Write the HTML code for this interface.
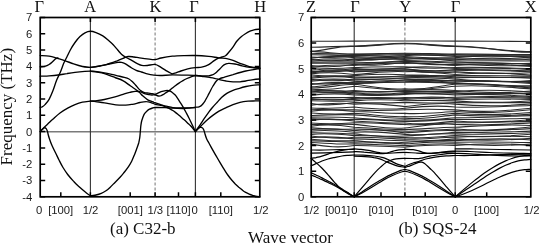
<!DOCTYPE html><html><head><meta charset="utf-8"><style>html,body{margin:0;padding:0;background:#fff;width:539px;height:244px;overflow:hidden}svg{display:block;will-change:transform}</style></head><body>
<svg width="539" height="244" viewBox="0 0 539 244">
<rect width="539" height="244" fill="#fff"/>
<line x1="40.2" y1="131.8" x2="259.8" y2="131.8" stroke="#7a7a7a" stroke-width="1.5"/>
<line x1="90.4" y1="17.5" x2="90.4" y2="196.8" stroke="#333" stroke-width="1.1"/>
<line x1="195.4" y1="17.5" x2="195.4" y2="196.8" stroke="#333" stroke-width="1.1"/>
<line x1="155.1" y1="17.5" x2="155.1" y2="196.8" stroke="#8a8a8a" stroke-width="1.2" stroke-dasharray="3,2"/>
<line x1="354.2" y1="17.5" x2="354.2" y2="196.8" stroke="#333" stroke-width="1.1"/>
<line x1="455.2" y1="17.5" x2="455.2" y2="196.8" stroke="#333" stroke-width="1.1"/>
<line x1="404.9" y1="17.5" x2="404.9" y2="196.8" stroke="#8a8a8a" stroke-width="1.2" stroke-dasharray="3,2"/>
<g fill="none" stroke="#000" stroke-width="1.35" stroke-linejoin="round" stroke-linecap="round">
<path d="M40.2 107.4 C40.5 107.3 41.2 107.5 42.0 107.0 C42.8 106.5 43.8 105.9 45.0 104.6 C46.2 103.3 47.8 101.6 49.1 99.3 C50.4 97.0 51.8 93.6 53.0 90.5 C54.2 87.4 55.3 83.5 56.5 80.5 C57.7 77.5 59.1 75.1 60.3 72.3 C61.5 69.5 62.5 66.2 63.6 63.6 C64.7 61.0 65.9 59.0 67.0 56.7 C68.1 54.4 69.0 52.4 70.3 50.0 C71.6 47.6 73.4 44.7 75.0 42.5 C76.6 40.3 78.3 38.2 80.0 36.6 C81.7 35.0 83.3 33.7 85.0 32.8 C86.7 31.9 88.6 31.3 90.4 31.3 C92.2 31.3 93.9 31.8 96.0 32.6 C98.1 33.4 100.8 34.7 102.8 35.9 C104.8 37.1 106.3 38.5 108.0 40.0 C109.7 41.5 111.6 43.1 113.2 44.8 C114.8 46.5 116.3 48.4 117.7 50.0 C119.1 51.6 120.3 53.2 121.7 54.5 C123.1 55.8 124.5 56.5 126.2 57.5 C127.9 58.5 129.8 59.4 131.7 60.4 C133.5 61.4 135.6 62.8 137.3 63.6 C139.0 64.4 140.1 65.1 141.8 65.4 C143.5 65.7 145.1 65.7 147.3 65.5 C149.5 65.3 152.7 64.1 155.0 64.4 C157.3 64.7 159.0 66.2 161.0 67.3 C163.0 68.4 165.2 70.1 167.0 71.2 C168.8 72.3 171.2 73.4 172.0 73.8"/>
<path d="M172.0 73.8 C172.7 73.6 174.5 73.3 176.0 72.8 C177.5 72.3 178.9 71.7 180.9 71.0 C182.9 70.3 185.4 69.5 187.8 68.9 C190.2 68.4 193.0 68.0 195.3 67.7 C197.6 67.4 199.5 67.7 201.7 67.2 C203.9 66.7 206.6 65.8 208.7 64.7 C210.8 63.6 212.6 61.7 214.2 60.6 C215.8 59.5 217.1 58.7 218.4 58.1 C219.7 57.5 220.8 57.4 222.0 57.0 C223.2 56.6 224.3 56.6 225.5 55.8 C226.7 55.0 227.7 53.5 229.0 52.0 C230.3 50.5 231.8 48.6 233.1 46.8 C234.4 45.0 235.6 42.7 237.0 41.0 C238.4 39.3 240.0 37.8 241.5 36.5 C243.0 35.2 244.4 34.4 245.8 33.5 C247.2 32.6 248.6 31.8 250.0 31.2 C251.4 30.6 252.4 30.1 254.0 29.8 C255.6 29.5 258.8 29.3 259.8 29.2"/>
<path d="M90.4 67.4 C91.2 67.3 92.4 67.3 95.0 66.8 C97.6 66.3 102.4 65.6 106.1 64.6 C109.8 63.6 114.3 61.9 117.3 60.8 C120.3 59.7 122.2 58.7 124.0 58.0 C125.8 57.3 126.7 56.7 128.4 56.5 C130.1 56.3 132.2 56.8 134.0 57.0 C135.8 57.2 137.3 57.5 139.5 57.8 C141.7 58.1 144.4 58.5 147.0 58.8 C149.6 59.1 152.7 59.7 155.0 59.6 C157.3 59.5 158.2 58.6 161.1 58.0 C164.0 57.4 168.5 56.6 172.3 56.2 C176.1 55.8 180.2 55.7 184.0 55.6 C187.8 55.5 191.2 55.4 195.3 55.5 C199.4 55.6 204.8 56.0 208.7 56.4 C212.5 56.8 215.4 57.4 218.4 57.8 C221.4 58.2 224.4 58.2 226.8 58.6 C229.2 59.0 230.8 59.5 233.0 60.3 C235.2 61.1 237.0 62.2 240.0 63.3 C243.0 64.4 247.6 66.2 250.9 67.0 C254.2 67.8 258.3 67.7 259.8 67.8"/>
<path d="M90.4 67.4 C92.0 67.2 96.5 66.6 100.0 66.0 C103.5 65.4 108.7 64.2 111.7 63.6 C114.7 63.0 116.4 62.6 118.0 62.4 C119.6 62.2 120.3 62.2 121.5 62.4 C122.7 62.6 123.3 62.7 125.0 63.6 C126.7 64.5 129.8 66.9 131.7 68.0 C133.6 69.1 134.6 69.6 136.2 70.3 C137.8 71.0 139.8 71.5 141.5 72.0 C143.2 72.5 144.1 73.1 146.2 73.6 C148.3 74.1 151.6 74.8 153.9 75.1 C156.2 75.4 156.9 75.5 160.0 75.5 C163.1 75.5 167.9 75.0 172.5 74.9 C177.1 74.9 184.0 75.1 187.8 75.2 C191.6 75.3 193.0 75.4 195.3 75.5 C197.6 75.6 199.5 75.8 201.7 75.9 C203.9 76.0 206.9 76.1 208.7 75.9 C210.5 75.7 211.3 75.3 212.5 74.8 C213.7 74.3 214.4 74.0 215.6 73.0 C216.8 72.0 218.4 70.2 219.8 68.9 C221.2 67.6 222.6 65.8 224.0 64.9 C225.4 64.0 226.4 63.5 228.2 63.4 C230.0 63.2 232.7 63.6 235.0 64.0 C237.3 64.4 239.5 65.2 242.0 65.8 C244.5 66.4 247.0 67.0 250.0 67.4 C253.0 67.8 258.2 68.2 259.8 68.3"/>
<path d="M40.2 55.6 C41.7 55.7 46.5 55.7 49.1 56.1 C51.7 56.5 53.2 57.0 55.8 57.8 C58.4 58.5 61.7 59.6 64.7 60.6 C67.7 61.6 70.6 62.9 73.6 63.9 C76.6 64.9 79.7 65.9 82.5 66.5 C85.3 67.1 89.1 67.2 90.4 67.4"/>
<path d="M40.2 66.7 C41.0 66.7 43.2 66.8 44.7 66.4 C46.2 66.0 47.8 65.3 49.1 64.5 C50.4 63.7 51.4 62.7 52.5 61.7 C53.6 60.7 54.9 59.2 55.8 58.6 C56.7 58.0 57.6 58.0 58.0 57.9"/>
<path d="M40.2 76.2 C41.7 76.1 46.1 76.0 49.1 75.8 C52.1 75.6 55.0 75.4 58.0 75.0 C61.0 74.6 64.2 74.0 67.0 73.6 C69.8 73.1 72.0 72.7 75.0 72.3 C78.0 71.9 82.2 71.5 84.8 71.3 C87.4 71.1 89.5 71.1 90.4 71.1"/>
<path d="M90.4 71.1 C91.5 71.2 94.7 71.4 97.0 71.7 C99.3 72.0 101.2 72.3 104.4 72.9 C107.6 73.5 112.6 74.7 115.9 75.4 C119.2 76.2 122.1 76.8 124.3 77.4 C126.5 78.0 127.6 78.3 129.0 79.0 C130.4 79.7 131.4 80.8 132.5 81.8 C133.6 82.8 134.5 83.9 135.5 85.0 C136.5 86.1 137.6 87.6 138.5 88.6 C139.4 89.6 140.0 90.2 141.0 90.9 C142.0 91.6 143.2 92.2 144.5 92.6 C145.8 93.0 147.2 93.0 148.5 93.2 C149.8 93.4 150.9 93.5 152.0 93.7 C153.1 93.9 154.5 94.4 155.0 94.6"/>
<path d="M90.4 71.1 C91.5 71.3 94.7 71.7 97.0 72.1 C99.3 72.5 101.4 72.7 104.4 73.6 C107.4 74.5 111.9 76.3 115.0 77.5 C118.1 78.7 120.2 79.2 122.8 80.6 C125.4 82.0 128.0 84.2 130.6 86.0 C133.2 87.8 136.3 89.8 138.4 91.5 C140.5 93.2 141.4 94.7 143.0 96.1 C144.6 97.5 145.9 98.8 147.7 99.8 C149.5 100.8 151.8 101.5 153.9 102.3 C156.0 103.0 158.2 103.6 160.0 104.3 C161.8 105.0 163.5 105.9 165.0 106.6 C166.5 107.3 167.8 107.8 169.1 108.4 C170.4 109.1 171.5 109.7 172.8 110.5 C174.1 111.3 175.4 112.4 176.7 113.4 C178.0 114.4 179.2 115.5 180.5 116.6 C181.8 117.7 183.0 118.8 184.2 119.8 C185.4 120.8 186.5 121.9 187.5 122.9 C188.5 123.9 189.4 124.6 190.3 125.6 C191.2 126.5 192.2 127.6 193.0 128.6 C193.8 129.6 195.0 131.1 195.4 131.6"/>
<path d="M155.0 94.6 C155.6 94.3 157.4 93.4 158.4 92.9 C159.4 92.4 159.9 92.1 161.1 91.7 C162.3 91.3 164.3 90.8 165.7 90.6 C167.1 90.4 168.7 90.6 169.3 90.6"/>
<path d="M155.0 94.6 C155.6 94.8 157.4 95.8 158.4 96.0 C159.4 96.2 160.2 96.0 161.1 95.7 C161.9 95.4 162.7 94.9 163.5 94.4 C164.3 93.9 164.7 93.4 165.7 92.8 C166.7 92.2 168.7 91.0 169.3 90.6"/>
<path d="M169.3 90.6 C169.8 90.2 171.1 89.1 172.0 88.3 C172.9 87.5 173.8 86.9 175.0 86.0 C176.2 85.1 177.7 84.0 179.0 83.1 C180.3 82.2 181.7 81.4 183.0 80.6 C184.3 79.8 185.7 79.1 187.0 78.5 C188.3 77.9 189.6 77.3 191.0 76.8 C192.4 76.3 194.6 75.8 195.3 75.6"/>
<path d="M169.3 90.6 C169.8 90.9 171.0 91.5 172.0 92.2 C173.0 92.9 174.3 94.1 175.2 95.0 C176.1 95.9 176.6 96.8 177.3 97.8 C178.0 98.8 178.6 99.8 179.2 100.8 C179.8 101.8 180.4 102.7 181.0 103.6 C181.6 104.5 181.9 105.0 182.7 106.4 C183.5 107.8 184.8 110.1 185.8 112.0 C186.8 113.9 187.8 115.7 188.8 117.7 C189.8 119.7 190.9 122.2 191.8 124.0 C192.7 125.8 193.4 127.3 194.0 128.6 C194.6 129.9 195.2 131.1 195.4 131.6"/>
<path d="M90.4 101.1 C91.5 101.0 94.7 100.9 97.0 100.6 C99.3 100.3 101.4 100.1 104.4 99.5 C107.4 98.9 111.7 97.9 115.0 96.9 C118.3 96.0 121.8 94.6 124.3 93.8 C126.8 93.0 128.2 92.7 130.0 92.3 C131.8 91.9 133.5 91.4 135.2 91.3 C136.9 91.2 138.8 91.4 140.4 91.8 C142.0 92.2 143.2 93.1 144.5 93.6 C145.8 94.1 147.2 94.4 148.5 94.6 C149.8 94.8 150.9 95.0 152.0 95.0 C153.1 95.0 154.5 94.7 155.0 94.6"/>
<path d="M90.4 101.1 C91.5 101.2 94.7 101.5 97.0 101.8 C99.3 102.1 101.2 102.3 104.4 102.8 C107.6 103.3 112.4 104.4 115.9 104.8 C119.5 105.2 123.0 105.2 125.7 105.1 C128.4 105.0 129.9 104.7 132.3 104.3 C134.7 103.9 137.6 103.0 140.0 102.5 C142.4 102.0 144.7 101.5 146.6 101.6 C148.5 101.6 149.9 102.3 151.5 102.8 C153.1 103.3 154.2 104.1 156.4 104.6 C158.6 105.1 161.9 105.3 164.6 105.8 C167.3 106.3 170.2 107.2 172.8 107.6 C175.4 108.0 177.3 108.0 180.0 108.0 C182.7 108.0 186.6 107.9 189.2 107.8 C191.8 107.7 193.8 107.5 195.4 107.3 C197.0 107.1 198.0 107.1 199.0 106.8 C200.0 106.5 200.6 106.1 201.3 105.6 C202.0 105.1 202.4 104.5 203.0 103.8 C203.6 103.1 204.2 102.3 204.8 101.4 C205.4 100.5 206.0 99.2 206.5 98.2 C207.0 97.2 207.4 96.7 208.0 95.5 C208.6 94.3 209.4 92.8 210.2 91.2 C211.0 89.6 211.9 87.7 213.0 86.0 C214.1 84.3 215.5 82.0 216.6 80.8 C217.7 79.6 218.3 79.4 219.5 78.8 C220.7 78.2 221.7 78.0 224.0 77.3 C226.3 76.6 229.5 75.6 233.1 74.6 C236.7 73.5 241.4 72.0 245.8 71.0 C250.2 70.0 257.5 68.9 259.8 68.5"/>
<path d="M40.2 131.6 C40.8 130.9 42.7 128.9 44.0 127.6 C45.3 126.3 46.5 125.2 48.0 123.8 C49.5 122.4 50.8 121.1 52.8 119.3 C54.8 117.5 57.5 114.8 60.0 113.0 C62.5 111.2 65.2 109.6 67.7 108.2 C70.2 106.8 72.5 105.6 75.0 104.6 C77.5 103.6 79.9 102.8 82.5 102.2 C85.1 101.6 89.1 101.4 90.4 101.2"/>
<path d="M40.2 131.6 C40.6 131.2 41.8 129.8 42.5 129.2 C43.2 128.6 43.9 127.9 44.5 127.8 C45.1 127.7 45.7 128.0 46.2 128.6 C46.7 129.2 47.0 130.1 47.4 131.2 C47.8 132.3 47.9 133.7 48.3 135.0 C48.6 136.3 48.9 137.2 49.5 139.0 C50.1 140.8 51.0 143.2 52.0 145.5 C53.0 147.8 54.3 150.4 55.5 152.8 C56.7 155.2 57.8 157.6 59.0 160.0 C60.2 162.4 61.5 165.1 63.0 167.5 C64.5 169.9 65.9 172.1 67.7 174.5 C69.5 176.9 72.0 179.6 74.0 181.8 C76.0 184.0 78.2 185.9 80.0 187.6 C81.8 189.3 83.3 190.5 85.0 191.8 C86.7 193.1 88.6 195.1 90.4 195.6 C92.2 196.1 94.2 195.4 96.0 195.0 C97.8 194.6 99.6 194.1 101.3 193.4 C103.0 192.7 104.5 191.8 106.0 190.8 C107.5 189.8 108.5 188.8 110.0 187.4 C111.5 186.0 113.3 184.1 115.0 182.4 C116.7 180.7 118.7 178.7 120.3 177.0 C121.9 175.3 123.1 173.7 124.5 172.0 C125.9 170.3 127.3 168.5 128.5 166.7 C129.7 164.9 130.8 163.1 131.8 161.0 C132.8 158.9 133.7 156.6 134.6 154.4 C135.5 152.2 136.3 149.9 137.0 148.0 C137.7 146.1 138.2 144.7 138.7 143.0 C139.1 141.3 139.4 139.8 139.7 138.0 C140.0 136.2 140.1 134.0 140.3 132.0 C140.5 130.0 140.6 127.9 140.8 126.0 C141.1 124.1 141.2 122.5 141.8 120.5 C142.4 118.5 143.2 115.9 144.1 114.3 C145.0 112.7 146.1 111.8 147.0 111.0 C147.9 110.2 148.6 109.7 149.5 109.2 C150.4 108.7 151.6 108.3 152.5 108.0 C153.4 107.7 153.0 107.6 155.0 107.5 C157.0 107.4 161.6 107.5 164.6 107.6 C167.6 107.7 169.8 108.0 172.8 108.2 C175.8 108.4 180.0 108.5 182.7 108.5 C185.4 108.5 186.9 108.3 189.0 108.1 C191.1 107.9 194.3 107.6 195.4 107.5"/>
<path d="M195.4 75.5 C196.4 75.6 199.6 76.0 201.7 76.3 C203.8 76.6 205.4 76.7 207.7 77.1 C210.0 77.5 213.5 78.1 215.6 78.6 C217.7 79.0 218.7 79.4 220.4 79.8 C222.1 80.2 223.9 80.7 226.0 81.0 C228.1 81.3 230.8 81.7 233.1 81.8 C235.4 81.9 237.9 81.9 240.0 81.8 C242.1 81.7 243.8 81.3 245.8 81.0 C247.8 80.7 249.7 80.1 252.0 79.8 C254.3 79.5 258.5 79.1 259.8 79.0"/>
<path d="M195.4 131.6 C196.0 130.8 197.7 128.4 199.0 126.5 C200.3 124.6 201.5 122.5 203.0 120.3 C204.5 118.1 206.4 115.5 207.9 113.4 C209.4 111.4 210.5 109.8 212.0 108.0 C213.5 106.2 215.4 104.2 217.0 102.5 C218.6 100.8 219.9 99.0 221.5 97.5 C223.1 96.0 224.9 94.6 226.8 93.4 C228.7 92.2 230.9 91.2 233.0 90.4 C235.1 89.6 237.3 89.0 239.5 88.3 C241.7 87.6 243.9 87.0 246.0 86.5 C248.1 86.0 249.9 85.6 252.2 85.3 C254.5 85.0 258.5 84.9 259.8 84.8"/>
<path d="M195.4 131.6 C196.2 130.8 198.2 128.8 200.0 127.0 C201.8 125.2 203.9 122.9 206.0 121.0 C208.1 119.1 210.6 117.0 212.8 115.4 C215.0 113.8 216.8 112.5 219.0 111.2 C221.2 109.9 223.6 108.9 225.9 107.8 C228.2 106.7 230.7 105.5 233.0 104.6 C235.3 103.7 237.5 102.9 240.0 102.3 C242.5 101.7 245.4 101.4 248.0 101.2 C250.6 101.0 253.6 101.0 255.6 100.9 C257.6 100.9 259.1 100.9 259.8 100.9"/>
<path d="M195.4 131.6 C195.8 131.1 197.0 129.3 197.8 128.6 C198.6 127.9 199.6 127.4 200.3 127.3 C201.1 127.2 201.7 127.3 202.3 127.8 C202.9 128.2 203.4 129.0 203.8 130.0 C204.2 131.0 204.6 132.6 205.0 134.0 C205.4 135.4 205.9 137.0 206.5 138.5 C207.1 140.0 208.0 141.3 208.8 142.8 C209.6 144.3 210.3 145.6 211.4 147.6 C212.5 149.6 214.1 152.4 215.5 154.8 C216.9 157.2 218.3 159.7 219.6 161.9 C220.9 164.2 222.1 166.1 223.5 168.3 C224.9 170.5 226.4 173.0 227.8 175.0 C229.2 177.0 230.6 178.8 231.9 180.3 C233.2 181.8 234.3 183.0 235.5 184.2 C236.7 185.3 237.7 186.2 238.8 187.2 C239.9 188.1 241.0 189.0 242.2 189.9 C243.3 190.8 244.5 191.7 245.7 192.4 C246.9 193.1 248.0 193.6 249.2 194.1 C250.3 194.6 251.5 195.0 252.6 195.3 C253.7 195.6 254.3 195.9 255.5 196.1 C256.7 196.3 259.1 196.6 259.8 196.7"/>
</g>
<g fill="none" stroke="#2a2a2a" stroke-width="1.1" stroke-linejoin="round" stroke-linecap="round">
<path d="M311.2 41.30 C326.7 41.30 338.7 41.10 354.2 41.10 C372.5 41.10 386.6 41.00 404.9 41.00 C423.0 41.00 437.1 41.10 455.2 41.10 C482.4 41.10 503.6 41.50 530.8 41.50"/>
<path d="M311.2 47.30 C326.7 47.30 338.7 46.00 354.2 46.00 C372.5 46.00 386.6 43.30 404.9 43.30 C423.0 43.30 437.1 46.00 455.2 46.00 C482.4 46.00 503.6 52.30 530.8 52.30"/>
<path d="M311.2 51.40 C326.7 50.33 338.7 45.43 354.2 46.50 C372.5 46.50 386.6 43.80 404.9 43.80 C423.0 43.80 437.1 46.50 455.2 46.50 C482.4 46.50 503.6 51.60 530.8 51.60"/>
<path d="M311.2 51.40 C326.7 51.80 338.7 54.40 354.2 54.00 C372.5 54.00 386.6 53.20 404.9 53.20 C423.0 53.20 437.1 54.00 455.2 54.00 C482.4 54.00 503.6 54.60 530.8 54.60"/>
<path d="M311.2 53.71 C326.7 53.46 338.7 54.10 354.2 54.35 C372.5 54.60 386.6 53.94 404.9 53.68 C423.0 55.49 437.1 56.16 455.2 54.35 C482.4 54.15 503.6 54.61 530.8 54.82"/>
<path d="M311.2 54.73 C326.7 54.77 338.7 55.49 354.2 55.45 C372.5 55.82 386.6 55.02 404.9 54.65 C423.0 53.30 437.1 54.10 455.2 55.45 C482.4 55.52 503.6 55.92 530.8 55.85"/>
<path d="M311.2 57.15 C326.7 57.84 338.7 57.24 354.2 56.55 C372.5 57.80 386.6 56.87 404.9 55.62 C423.0 53.89 437.1 54.82 455.2 56.55 C482.4 55.40 503.6 55.72 530.8 56.88"/>
<path d="M311.2 58.17 C326.7 55.99 338.7 55.47 354.2 57.65 C372.5 58.97 386.6 57.90 404.9 56.58 C423.0 57.41 437.1 58.48 455.2 57.65 C482.4 54.96 503.6 55.22 530.8 57.91"/>
<path d="M311.2 59.19 C326.7 61.76 338.7 61.32 354.2 58.75 C372.5 60.73 386.6 59.53 404.9 57.55 C423.0 58.21 437.1 59.41 455.2 58.75 C482.4 59.43 503.6 59.62 530.8 58.94"/>
<path d="M311.2 60.21 C326.7 58.38 338.7 58.02 354.2 59.85 C372.5 57.78 386.6 56.45 404.9 58.52 C423.0 58.64 437.1 59.97 455.2 59.85 C482.4 57.27 503.6 57.38 530.8 59.97"/>
<path d="M311.2 61.23 C326.7 59.57 338.7 59.30 354.2 60.95 C372.5 59.85 386.6 58.38 404.9 59.48 C423.0 57.48 437.1 58.95 455.2 60.95 C482.4 60.74 503.6 60.79 530.8 61.00"/>
<path d="M311.2 62.25 C326.7 61.93 338.7 61.73 354.2 62.05 C372.5 63.51 386.6 61.91 404.9 60.45 C423.0 60.53 437.1 62.13 455.2 62.05 C482.4 62.87 503.6 64.15 530.8 63.33"/>
<path d="M311.2 63.27 C326.7 63.26 338.7 63.15 354.2 63.15 C372.5 63.84 386.6 62.11 404.9 61.42 C423.0 61.23 437.1 62.97 455.2 63.15 C482.4 61.85 503.6 63.06 530.8 64.36"/>
<path d="M311.2 65.48 C326.7 68.14 338.7 66.90 354.2 64.25 C372.5 66.36 386.6 64.50 404.9 62.38 C423.0 63.83 437.1 65.70 455.2 64.25 C482.4 65.47 503.6 66.61 530.8 65.39"/>
<path d="M311.2 66.50 C326.7 65.52 338.7 64.37 354.2 65.35 C372.5 64.20 386.6 62.20 404.9 63.35 C423.0 62.45 437.1 64.45 455.2 65.35 C482.4 62.83 503.6 63.90 530.8 66.42"/>
<path d="M311.2 67.52 C326.7 68.94 338.7 68.87 354.2 67.45 C372.5 67.03 386.6 66.49 404.9 66.92 C423.0 68.40 437.1 68.93 455.2 67.45 C482.4 66.78 503.6 67.99 530.8 68.65"/>
<path d="M311.2 68.54 C326.7 70.99 338.7 70.99 354.2 68.55 C372.5 70.03 386.6 69.36 404.9 67.88 C423.0 65.75 437.1 66.42 455.2 68.55 C482.4 66.85 503.6 67.98 530.8 69.68"/>
<path d="M311.2 70.86 C326.7 73.05 338.7 71.84 354.2 69.65 C372.5 69.52 386.6 68.72 404.9 68.85 C423.0 70.90 437.1 71.70 455.2 69.65 C482.4 69.05 503.6 70.11 530.8 70.71"/>
<path d="M311.2 71.88 C326.7 69.61 338.7 68.47 354.2 70.75 C372.5 71.30 386.6 70.37 404.9 69.82 C423.0 71.00 437.1 71.94 455.2 70.75 C482.4 69.40 503.6 70.39 530.8 71.74"/>
<path d="M311.2 72.90 C326.7 70.70 338.7 69.65 354.2 71.85 C372.5 71.14 386.6 70.07 404.9 70.78 C423.0 72.76 437.1 73.83 455.2 71.85 C482.4 73.36 503.6 74.29 530.8 72.77"/>
<path d="M311.2 73.92 C326.7 71.88 338.7 72.51 354.2 74.55 C372.5 73.47 386.6 70.67 404.9 71.75 C423.0 70.05 437.1 72.85 455.2 74.55 C482.4 71.97 503.6 72.52 530.8 75.10"/>
<path d="M311.2 74.94 C326.7 76.52 338.7 77.23 354.2 75.65 C372.5 74.28 386.6 73.54 404.9 74.92 C423.0 75.17 437.1 75.90 455.2 75.65 C482.4 75.34 503.6 75.83 530.8 76.13"/>
<path d="M311.2 77.16 C326.7 75.51 338.7 75.10 354.2 76.75 C372.5 77.74 386.6 76.87 404.9 75.88 C423.0 74.31 437.1 75.18 455.2 76.75 C482.4 77.59 503.6 78.01 530.8 77.17"/>
<path d="M311.2 78.18 C326.7 76.13 338.7 75.81 354.2 77.85 C372.5 77.51 386.6 76.51 404.9 76.85 C423.0 75.63 437.1 76.63 455.2 77.85 C482.4 76.50 503.6 76.85 530.8 78.20"/>
<path d="M311.2 79.20 C326.7 81.71 338.7 81.46 354.2 78.95 C372.5 80.24 386.6 79.11 404.9 77.82 C423.0 76.98 437.1 78.11 455.2 78.95 C482.4 81.21 503.6 82.68 530.8 80.43"/>
<path d="M311.2 80.22 C326.7 78.68 338.7 78.51 354.2 80.05 C372.5 79.60 386.6 78.33 404.9 78.78 C423.0 80.29 437.1 81.56 455.2 80.05 C482.4 80.88 503.6 82.29 530.8 81.46"/>
<path d="M311.2 81.24 C326.7 79.11 338.7 79.02 354.2 81.15 C372.5 83.24 386.6 81.84 404.9 79.75 C423.0 78.53 437.1 79.93 455.2 81.15 C482.4 79.73 503.6 81.07 530.8 82.49"/>
<path d="M311.2 83.46 C326.7 84.91 338.7 83.70 354.2 82.25 C372.5 81.52 386.6 79.99 404.9 80.72 C423.0 79.85 437.1 81.38 455.2 82.25 C482.4 79.75 503.6 81.02 530.8 83.52"/>
<path d="M311.2 84.48 C326.7 82.29 338.7 81.16 354.2 83.35 C372.5 83.70 386.6 82.04 404.9 81.68 C423.0 80.59 437.1 82.25 455.2 83.35 C482.4 83.94 503.6 86.34 530.8 85.75"/>
<path d="M311.2 86.90 C326.7 86.21 338.7 82.52 354.2 83.20 C372.5 82.53 386.6 81.63 404.9 82.30 C423.0 81.63 437.1 82.53 455.2 83.20 C482.4 83.10 503.6 86.68 530.8 86.78"/>
<path d="M311.2 87.92 C326.7 88.31 338.7 84.70 354.2 84.30 C372.5 86.17 386.6 90.57 404.9 88.70 C423.0 90.57 437.1 86.17 455.2 84.30 C482.4 82.27 503.6 85.78 530.8 87.81"/>
<path d="M311.2 88.93 C326.7 91.11 338.7 88.38 354.2 86.20 C372.5 87.40 386.6 91.00 404.9 89.80 C423.0 91.00 437.1 87.40 455.2 86.20 C482.4 84.38 503.6 87.02 530.8 88.84"/>
<path d="M311.2 89.95 C326.7 91.23 338.7 91.83 354.2 90.55 C372.5 92.43 386.6 92.43 404.9 90.55 C423.0 89.26 437.1 89.26 455.2 90.55 C482.4 93.19 503.6 93.71 530.8 91.07"/>
<path d="M311.2 90.97 C326.7 93.01 338.7 93.69 354.2 91.65 C372.5 92.09 386.6 91.96 404.9 91.52 C423.0 91.18 437.1 91.31 455.2 91.65 C482.4 89.33 503.6 89.78 530.8 92.10"/>
<path d="M311.2 91.99 C326.7 89.53 338.7 90.29 354.2 92.75 C372.5 94.72 386.6 94.46 404.9 92.48 C423.0 91.37 437.1 91.63 455.2 92.75 C482.4 93.95 503.6 94.33 530.8 93.13"/>
<path d="M311.2 93.01 C326.7 91.72 338.7 92.55 354.2 93.85 C372.5 95.23 386.6 94.83 404.9 93.45 C423.0 93.86 437.1 94.26 455.2 93.85 C482.4 92.64 503.6 92.95 530.8 94.16"/>
<path d="M311.2 95.23 C326.7 93.50 338.7 93.22 354.2 94.95 C372.5 95.89 386.6 95.36 404.9 94.42 C423.0 92.58 437.1 93.11 455.2 94.95 C482.4 93.36 503.6 94.80 530.8 96.39"/>
<path d="M311.2 97.45 C326.7 97.77 338.7 97.57 354.2 97.25 C372.5 98.75 386.6 99.09 404.9 97.58 C423.0 98.07 437.1 97.74 455.2 97.25 C482.4 95.96 503.6 96.13 530.8 97.42"/>
<path d="M311.2 98.47 C326.7 100.70 338.7 100.58 354.2 98.35 C372.5 97.09 386.6 97.29 404.9 98.55 C423.0 96.49 437.1 96.29 455.2 98.35 C482.4 97.00 503.6 97.10 530.8 98.45"/>
<path d="M311.2 99.49 C326.7 99.20 338.7 99.16 354.2 99.45 C372.5 97.58 386.6 97.64 404.9 99.52 C423.0 98.14 437.1 98.07 455.2 99.45 C482.4 98.68 503.6 98.72 530.8 99.48"/>
<path d="M311.2 100.81 C326.7 101.19 338.7 101.22 354.2 100.83 C372.5 99.26 386.6 99.23 404.9 100.80 C423.0 100.21 437.1 100.24 455.2 100.83 C482.4 103.12 503.6 103.07 530.8 100.78"/>
<path d="M311.2 103.63 C326.7 106.19 338.7 105.06 354.2 102.50 C372.5 103.17 386.6 103.06 404.9 102.39 C423.0 103.21 437.1 103.31 455.2 102.50 C482.4 102.99 503.6 102.84 530.8 102.34"/>
<path d="M311.2 105.25 C326.7 103.33 338.7 102.24 354.2 104.16 C372.5 102.18 386.6 104.61 404.9 106.59 C423.0 104.53 437.1 102.10 455.2 104.16 C482.4 106.57 503.6 106.31 530.8 103.90"/>
<path d="M311.2 108.07 C326.7 109.14 338.7 108.10 354.2 107.02 C372.5 109.00 386.6 110.16 404.9 108.19 C423.0 106.14 437.1 104.98 455.2 107.02 C482.4 107.82 503.6 106.26 530.8 105.46"/>
<path d="M311.2 109.69 C326.7 109.60 338.7 109.79 354.2 109.89 C372.5 110.87 386.6 110.77 404.9 109.78 C423.0 109.01 437.1 109.12 455.2 109.89 C482.4 112.82 503.6 111.15 530.8 108.22"/>
<path d="M311.2 111.31 C326.7 109.05 338.7 109.29 354.2 111.55 C372.5 111.75 386.6 113.57 404.9 113.38 C423.0 114.39 437.1 112.56 455.2 111.55 C482.4 113.90 503.6 112.13 530.8 109.78"/>
<path d="M311.2 112.93 C326.7 114.19 338.7 114.48 354.2 113.22 C372.5 114.08 386.6 117.44 404.9 116.57 C423.0 117.82 437.1 114.47 455.2 113.22 C482.4 115.65 503.6 114.97 530.8 112.54"/>
<path d="M311.2 115.55 C326.7 114.76 338.7 114.09 354.2 114.88 C372.5 115.67 386.6 118.96 404.9 118.17 C423.0 119.88 437.1 116.59 455.2 114.88 C482.4 117.06 503.6 116.28 530.8 114.10"/>
<path d="M311.2 117.17 C326.7 116.73 338.7 117.30 354.2 117.74 C372.5 118.98 386.6 121.01 404.9 119.77 C423.0 121.32 437.1 119.29 455.2 117.74 C482.4 118.17 503.6 116.09 530.8 115.66"/>
<path d="M311.2 118.79 C326.7 119.46 338.7 120.07 354.2 119.41 C372.5 118.91 386.6 120.86 404.9 121.36 C423.0 121.71 437.1 119.76 455.2 119.41 C482.4 120.05 503.6 118.86 530.8 118.22"/>
<path d="M311.2 120.41 C326.7 118.17 338.7 118.83 354.2 121.07 C372.5 121.67 386.6 123.55 404.9 122.96 C423.0 125.06 437.1 123.18 455.2 121.07 C482.4 123.30 503.6 122.01 530.8 119.78"/>
<path d="M311.2 123.03 C326.7 124.25 338.7 123.95 354.2 122.74 C372.5 122.26 386.6 124.08 404.9 124.55 C423.0 125.56 437.1 123.74 455.2 122.74 C482.4 123.21 503.6 121.81 530.8 121.34"/>
<path d="M311.2 124.65 C326.7 124.33 338.7 124.08 354.2 124.40 C372.5 125.84 386.6 129.39 404.9 127.95 C423.0 126.17 437.1 122.62 455.2 124.40 C482.4 125.87 503.6 124.37 530.8 122.90"/>
<path d="M311.2 126.27 C326.7 123.76 338.7 124.76 354.2 127.26 C372.5 127.70 386.6 129.98 404.9 129.55 C423.0 129.46 437.1 127.18 455.2 127.26 C482.4 125.68 503.6 123.88 530.8 125.46"/>
<path d="M311.2 127.89 C326.7 128.95 338.7 129.99 354.2 128.93 C372.5 128.92 386.6 131.13 404.9 131.14 C423.0 131.63 437.1 129.42 455.2 128.93 C482.4 131.39 503.6 129.49 530.8 127.02"/>
<path d="M311.2 129.51 C326.7 128.21 338.7 129.29 354.2 130.59 C372.5 128.51 386.6 130.65 404.9 132.74 C423.0 131.89 437.1 129.74 455.2 130.59 C482.4 131.64 503.6 129.62 530.8 128.58"/>
<path d="M311.2 131.13 C326.7 129.54 338.7 130.67 354.2 132.26 C372.5 130.85 386.6 132.92 404.9 134.33 C423.0 136.06 437.1 133.99 455.2 132.26 C482.4 133.19 503.6 132.08 530.8 131.14"/>
<path d="M311.2 132.75 C326.7 132.44 338.7 133.61 354.2 133.92 C372.5 135.59 386.6 137.60 404.9 135.93 C423.0 135.19 437.1 133.18 455.2 133.92 C482.4 134.89 503.6 133.67 530.8 132.70"/>
<path d="M311.2 134.37 C326.7 132.76 338.7 133.98 354.2 135.58 C372.5 135.29 386.6 137.23 404.9 137.53 C423.0 138.83 437.1 136.89 455.2 135.58 C482.4 138.01 503.6 136.69 530.8 134.26"/>
<path d="M311.2 135.99 C326.7 138.02 338.7 139.28 354.2 137.25 C372.5 136.75 386.6 138.63 404.9 139.12 C423.0 139.48 437.1 137.60 455.2 137.25 C482.4 136.17 503.6 135.74 530.8 136.82"/>
<path d="M311.2 137.61 C326.7 135.67 338.7 136.97 354.2 138.91 C372.5 138.90 386.6 140.70 404.9 140.72 C423.0 142.16 437.1 140.35 455.2 138.91 C482.4 140.96 503.6 140.43 530.8 138.38"/>
<path d="M311.2 139.23 C326.7 140.36 338.7 141.70 354.2 140.58 C372.5 142.50 386.6 144.23 404.9 142.31 C423.0 141.36 437.1 139.62 455.2 140.58 C482.4 138.64 503.6 138.00 530.8 139.94"/>
<path d="M311.2 140.85 C326.7 140.59 338.7 141.98 354.2 142.24 C372.5 141.28 386.6 142.95 404.9 143.91 C423.0 142.69 437.1 141.02 455.2 142.24 C482.4 141.74 503.6 142.00 530.8 142.50"/>
<path d="M311.2 142.47 C326.7 143.14 338.7 144.57 354.2 143.90 C372.5 143.88 386.6 145.48 404.9 145.51 C423.0 144.72 437.1 143.12 455.2 143.90 C482.4 145.89 503.6 146.05 530.8 144.06"/>
<path d="M311.2 144.09 C326.7 146.66 338.7 148.14 354.2 145.57 C372.5 145.37 386.6 146.90 404.9 147.10 C423.0 145.29 437.1 143.75 455.2 145.57 C482.4 142.82 503.6 142.87 530.8 145.62"/>
</g>
<g fill="none" stroke="#000" stroke-width="1.2" stroke-linejoin="round" stroke-linecap="round">
<path d="M311.2 150.0 C313.5 150.0 320.2 150.1 325.0 150.0 C329.8 149.9 335.1 149.7 340.0 149.6 C344.9 149.5 351.8 149.3 354.2 149.2"/>
<path d="M311.2 153.2 C314.7 153.1 324.9 152.8 332.1 152.6 C339.3 152.4 350.5 151.9 354.2 151.8"/>
<path d="M311.2 158.5 C312.0 158.3 314.4 157.9 316.0 157.6 C317.6 157.2 319.0 157.0 321.1 156.4 C323.2 155.8 326.4 154.6 328.7 153.9 C331.0 153.2 332.8 152.6 335.0 152.0 C337.2 151.4 339.8 150.8 342.0 150.4 C344.2 150.0 346.5 149.7 348.5 149.5 C350.5 149.3 353.2 149.2 354.2 149.2"/>
<path d="M311.2 165.6 C312.0 165.3 314.2 164.4 316.0 163.6 C317.8 162.8 320.0 161.8 322.0 161.0 C324.0 160.2 325.8 159.6 328.0 159.0 C330.2 158.4 332.7 157.9 335.0 157.4 C337.3 156.9 339.8 156.3 342.0 156.0 C344.2 155.7 346.5 155.5 348.5 155.3 C350.5 155.1 353.2 155.1 354.2 155.0"/>
<path d="M311.2 158.5 C312.0 159.2 314.3 161.1 316.0 162.6 C317.7 164.1 319.7 165.9 321.3 167.5 C322.9 169.1 324.1 170.5 325.5 172.0 C326.9 173.5 328.0 174.8 329.5 176.5 C331.0 178.2 332.8 180.4 334.5 182.3 C336.2 184.2 338.1 186.4 339.8 188.0 C341.5 189.6 342.9 190.5 344.5 191.6 C346.1 192.7 347.9 193.7 349.5 194.6 C351.1 195.5 353.4 196.4 354.2 196.8"/>
<path d="M311.2 172.8 C311.9 173.1 314.1 174.1 315.5 174.8 C316.9 175.5 318.4 176.1 319.8 176.8 C321.2 177.5 322.7 178.3 324.1 179.0 C325.5 179.7 327.0 180.4 328.4 181.2 C329.8 182.0 331.3 182.8 332.7 183.6 C334.1 184.4 335.6 185.2 337.0 186.0 C338.4 186.8 339.9 187.7 341.3 188.6 C342.7 189.5 344.2 190.3 345.6 191.2 C347.0 192.1 348.5 193.1 349.9 194.0 C351.3 194.9 353.5 196.3 354.2 196.8"/>
<path d="M311.2 175.0 C311.9 175.3 314.1 176.2 315.5 176.8 C316.9 177.4 318.4 178.1 319.8 178.7 C321.2 179.3 322.7 179.9 324.1 180.6 C325.5 181.3 327.0 182.0 328.4 182.7 C329.8 183.4 331.3 184.1 332.7 184.8 C334.1 185.5 335.6 186.2 337.0 187.0 C338.4 187.8 339.9 188.5 341.3 189.3 C342.7 190.1 344.2 190.9 345.6 191.7 C347.0 192.5 348.5 193.3 349.9 194.2 C351.3 195.0 353.5 196.4 354.2 196.8"/>
<path d="M354.2 148.9 C355.3 149.0 358.6 149.2 361.0 149.4 C363.4 149.7 366.4 150.0 368.6 150.4 C370.8 150.8 372.1 151.2 374.0 151.6 C375.9 152.0 377.8 152.4 379.7 152.7 C381.6 153.0 383.4 153.3 385.2 153.2 C387.0 153.1 388.9 152.4 390.7 151.9 C392.5 151.4 393.8 150.7 396.2 150.3 C398.6 149.9 403.4 149.7 404.9 149.6"/>
<path d="M354.2 151.6 C355.8 151.7 360.7 151.9 364.0 152.2 C367.3 152.4 370.9 152.9 374.1 153.1 C377.3 153.3 379.9 153.6 383.0 153.6 C386.1 153.6 389.4 153.2 393.0 153.0 C396.6 152.8 402.9 152.4 404.9 152.3"/>
<path d="M354.2 155.0 C355.7 155.0 359.8 154.9 363.1 155.1 C366.4 155.3 370.8 155.6 374.1 156.0 C377.4 156.4 380.8 157.0 383.0 157.6 C385.2 158.2 385.6 158.5 387.4 159.3 C389.2 160.1 392.0 161.7 394.0 162.6 C396.0 163.5 397.8 164.3 399.6 164.9 C401.4 165.5 404.0 166.2 404.9 166.4"/>
<path d="M354.2 156.1 C355.3 156.1 358.6 156.2 361.0 156.3 C363.4 156.4 366.4 156.6 368.6 156.8 C370.8 157.0 372.1 157.2 374.0 157.6 C375.9 157.9 377.5 158.2 379.7 158.9 C381.9 159.7 384.6 161.0 387.4 162.1 C390.1 163.2 393.3 164.7 396.2 165.6 C399.1 166.5 403.4 167.0 404.9 167.3"/>
<path d="M354.2 196.8 C355.0 195.9 357.4 193.1 359.0 191.2 C360.6 189.3 362.2 187.4 364.0 185.3 C365.8 183.2 367.6 181.1 369.5 178.9 C371.4 176.7 373.3 174.3 375.2 172.3 C377.1 170.3 378.9 168.6 380.8 166.9 C382.7 165.2 384.7 163.4 386.3 162.3 C387.9 161.2 389.1 160.9 390.7 160.3 C392.3 159.7 393.8 159.2 396.2 158.9 C398.6 158.6 403.4 158.4 404.9 158.3"/>
<path d="M354.2 196.8 C355.5 196.0 359.3 193.7 362.0 191.9 C364.7 190.1 367.7 188.0 370.5 186.2 C373.3 184.4 376.4 182.5 379.0 181.0 C381.6 179.5 383.8 178.2 386.0 177.0 C388.2 175.8 390.1 175.0 392.5 173.9 C394.9 172.8 398.5 171.2 400.6 170.4 C402.7 169.6 404.2 169.5 404.9 169.3"/>
<path d="M354.2 196.8 C355.5 196.2 359.3 194.5 362.0 193.0 C364.7 191.5 367.7 189.7 370.5 188.0 C373.3 186.3 376.4 184.4 379.0 182.8 C381.6 181.2 383.8 179.8 386.0 178.6 C388.2 177.4 390.1 176.6 392.5 175.5 C394.9 174.4 398.5 172.9 400.6 172.2 C402.7 171.5 404.2 171.4 404.9 171.2"/>
<path d="M404.9 149.2 C406.3 149.3 410.8 149.3 413.1 149.6 C415.4 149.9 416.8 150.3 418.6 150.8 C420.4 151.3 422.2 152.2 424.1 152.6 C426.0 153.0 427.3 153.4 429.7 153.4 C432.1 153.4 435.8 153.0 438.5 152.7 C441.2 152.4 443.4 151.9 446.2 151.6 C449.0 151.3 453.7 151.2 455.2 151.1"/>
<path d="M404.9 152.3 C406.8 152.4 412.5 152.8 416.0 153.0 C419.5 153.2 422.7 153.4 426.0 153.4 C429.3 153.4 431.1 153.4 436.0 153.1 C440.9 152.8 452.0 151.8 455.2 151.6"/>
<path d="M404.9 158.3 C406.3 158.3 410.8 158.4 413.1 158.5 C415.4 158.6 417.1 158.7 418.6 158.6 C420.1 158.5 420.0 158.5 421.9 158.1 C423.8 157.7 426.6 156.8 429.7 156.2 C432.8 155.6 437.8 154.9 440.7 154.5 C443.6 154.1 444.6 153.8 447.0 153.6 C449.4 153.4 453.8 153.4 455.2 153.3"/>
<path d="M404.9 166.4 C405.6 166.1 407.6 165.1 409.0 164.5 C410.4 163.9 411.5 163.5 413.1 163.0 C414.7 162.5 416.8 162.1 418.6 161.5 C420.4 160.9 422.2 160.1 424.1 159.5 C426.0 158.9 427.9 158.6 429.7 158.2 C431.5 157.8 432.4 157.6 435.2 157.2 C437.9 156.8 442.9 156.2 446.2 155.9 C449.5 155.6 453.7 155.6 455.2 155.5"/>
<path d="M404.9 167.3 C405.6 167.1 407.6 166.8 409.0 166.3 C410.4 165.9 411.5 165.2 413.1 164.6 C414.7 163.9 417.2 162.8 418.6 162.4 C420.0 162.0 420.5 161.9 421.5 162.1 C422.5 162.3 423.2 162.4 424.6 163.4 C426.0 164.4 428.1 166.7 429.7 168.2 C431.3 169.7 432.4 170.5 434.1 172.3 C435.8 174.1 438.1 177.0 440.0 179.2 C441.9 181.4 443.5 183.3 445.2 185.3 C446.9 187.3 448.5 189.3 450.2 191.2 C451.9 193.1 454.4 195.9 455.2 196.8"/>
<path d="M404.9 169.3 C405.6 169.5 407.1 169.6 409.2 170.4 C411.3 171.2 414.9 172.8 417.3 173.9 C419.7 175.0 421.6 175.8 423.8 177.0 C426.1 178.2 428.2 179.5 430.8 181.0 C433.4 182.5 436.5 184.4 439.3 186.2 C442.1 188.0 445.2 190.1 447.8 191.9 C450.4 193.7 454.0 196.0 455.2 196.8"/>
<path d="M404.9 171.2 C405.6 171.4 407.1 171.5 409.2 172.2 C411.3 172.9 414.9 174.4 417.3 175.5 C419.7 176.6 421.6 177.4 423.8 178.6 C426.1 179.8 428.2 181.2 430.8 182.8 C433.4 184.4 436.5 186.3 439.3 188.0 C442.1 189.7 445.2 191.5 447.8 193.0 C450.4 194.5 454.0 196.2 455.2 196.8"/>
<path d="M455.2 196.8 C456.2 195.9 459.4 193.2 461.5 191.4 C463.6 189.6 465.7 187.8 467.8 186.1 C469.9 184.3 472.0 182.6 474.1 180.9 C476.2 179.2 478.3 177.7 480.4 176.1 C482.5 174.5 484.6 172.9 486.7 171.5 C488.8 170.1 490.9 168.8 493.0 167.5 C495.1 166.2 497.2 165.0 499.3 163.9 C501.4 162.8 503.5 161.8 505.6 160.9 C507.7 160.0 509.8 159.2 511.9 158.5 C514.0 157.8 516.1 157.2 518.2 156.7 C520.3 156.2 522.4 155.9 524.5 155.7 C526.6 155.5 529.8 155.4 530.8 155.3"/>
<path d="M455.2 196.8 C456.2 196.1 459.4 194.2 461.5 192.8 C463.6 191.4 465.7 190.0 467.8 188.6 C469.9 187.2 472.0 185.7 474.1 184.3 C476.2 182.9 478.3 181.4 480.4 180.0 C482.5 178.6 484.6 177.2 486.7 175.8 C488.8 174.5 490.9 173.1 493.0 171.9 C495.1 170.7 497.2 169.5 499.3 168.4 C501.4 167.3 503.5 166.2 505.6 165.3 C507.7 164.4 509.8 163.5 511.9 162.8 C514.0 162.1 516.1 161.4 518.2 160.9 C520.3 160.4 522.4 160.1 524.5 159.8 C526.6 159.6 529.8 159.5 530.8 159.4"/>
<path d="M455.2 196.8 C456.2 196.5 459.4 195.6 461.5 194.8 C463.6 194.1 465.7 193.2 467.8 192.3 C469.9 191.4 472.0 190.5 474.1 189.5 C476.2 188.5 478.3 187.5 480.4 186.5 C482.5 185.5 484.6 184.4 486.7 183.3 C488.8 182.2 490.9 181.2 493.0 180.2 C495.1 179.2 497.2 178.1 499.3 177.2 C501.4 176.3 503.5 175.4 505.6 174.6 C507.7 173.8 509.8 173.1 511.9 172.4 C514.0 171.8 516.1 171.1 518.2 170.7 C520.3 170.2 522.4 169.9 524.5 169.7 C526.6 169.5 529.8 169.4 530.8 169.3"/>
<path d="M455.2 151.1 C457.7 151.2 464.2 151.3 470.0 151.5 C475.8 151.7 483.3 152.2 490.0 152.5 C496.7 152.8 503.2 153.0 510.0 153.2 C516.8 153.4 527.3 153.4 530.8 153.5"/>
<path d="M455.2 153.3 C457.7 153.4 464.2 153.5 470.0 153.8 C475.8 154.1 483.3 154.7 490.0 155.0 C496.7 155.3 503.2 155.6 510.0 155.8 C516.8 156.0 527.3 156.0 530.8 156.0"/>
<path d="M455.2 155.5 C457.7 155.5 464.2 155.6 470.0 155.5 C475.8 155.4 483.3 155.0 490.0 154.8 C496.7 154.6 503.2 154.4 510.0 154.3 C516.8 154.2 527.3 154.2 530.8 154.2"/>
<path d="M455.2 148.9 C458.5 148.9 467.5 148.9 475.0 149.0 C482.5 149.1 490.7 149.3 500.0 149.5 C509.3 149.7 525.7 149.9 530.8 150.0"/>
</g>
<g fill="none" stroke="#000" stroke-width="1.7">
<rect x="40.2" y="17.5" width="219.6" height="179.3"/>
<rect x="311.2" y="17.5" width="219.6" height="179.3"/>
</g>
<path d="M40.2 196.8h5M259.8 196.8h-5M40.2 180.5h5M259.8 180.5h-5M40.2 164.2h5M259.8 164.2h-5M40.2 147.9h5M259.8 147.9h-5M40.2 131.6h5M259.8 131.6h-5M40.2 115.3h5M259.8 115.3h-5M40.2 99.0h5M259.8 99.0h-5M40.2 82.7h5M259.8 82.7h-5M40.2 66.4h5M259.8 66.4h-5M40.2 50.1h5M259.8 50.1h-5M40.2 33.8h5M259.8 33.8h-5M40.2 17.5h5M259.8 17.5h-5M311.2 196.8h5M530.8 196.8h-5M311.2 171.2h5M530.8 171.2h-5M311.2 145.6h5M530.8 145.6h-5M311.2 120.0h5M530.8 120.0h-5M311.2 94.4h5M530.8 94.4h-5M311.2 68.8h5M530.8 68.8h-5M311.2 43.1h5M530.8 43.1h-5M311.2 17.5h5M530.8 17.5h-5M60.8 196.8v-4.5M90.4 196.8v-4.5M130.2 196.8v-4.5M155.1 196.8v-4.5M178.5 196.8v-4.5M195.4 196.8v-4.5M220.8 196.8v-4.5M337.5 196.8v-4.5M354.2 196.8v-4.5M381.0 196.8v-4.5M404.9 196.8v-4.5M425.2 196.8v-4.5M455.2 196.8v-4.5M486.7 196.8v-4.5M90.4 17.5v4.5M155.1 17.5v4.5M195.4 17.5v4.5M354.2 17.5v4.5M404.9 17.5v4.5M455.2 17.5v4.5" stroke="#000" stroke-width="1.5" fill="none"/>
<g font-family="'Liberation Sans', sans-serif" font-size="11.3" fill="#1a1a1a" text-anchor="end">
<text x="32.4" y="200.7">-4</text>
<text x="32.4" y="184.4">-3</text>
<text x="32.4" y="168.1">-2</text>
<text x="32.4" y="151.8">-1</text>
<text x="32.4" y="135.5">0</text>
<text x="32.4" y="119.2">1</text>
<text x="32.4" y="102.9">2</text>
<text x="32.4" y="86.6">3</text>
<text x="32.4" y="70.3">4</text>
<text x="32.4" y="54.0">5</text>
<text x="32.4" y="37.7">6</text>
<text x="32.4" y="21.4">7</text>
<text x="304.4" y="200.7">0</text>
<text x="304.4" y="175.1">1</text>
<text x="304.4" y="149.5">2</text>
<text x="304.4" y="123.9">3</text>
<text x="304.4" y="98.3">4</text>
<text x="304.4" y="72.7">5</text>
<text x="304.4" y="47.0">6</text>
<text x="304.4" y="21.4">7</text>
</g>
<g font-family="'Liberation Sans', sans-serif" font-size="11.3" fill="#1a1a1a" text-anchor="middle">
<text x="39.2" y="213.6">0</text>
<text x="60.7" y="213.6">[100]</text>
<text x="90.5" y="213.6">1/2</text>
<text x="130.4" y="213.6">[001]</text>
<text x="155.3" y="213.6">1/3</text>
<text x="178.6" y="213.6">[110]</text>
<text x="194.6" y="213.6">0</text>
<text x="220.8" y="213.6">[110]</text>
<text x="260.8" y="213.6">1/2</text>
<text x="311.4" y="213.6">1/2</text>
<text x="337.5" y="213.6">[001]</text>
<text x="354.3" y="213.6">0</text>
<text x="381.0" y="213.6">[010]</text>
<text x="424.8" y="213.6">[010]</text>
<text x="455.2" y="213.6">0</text>
<text x="486.6" y="213.6">[100]</text>
<text x="531.6" y="213.6">1/2</text>
</g>
<g font-family="'Liberation Serif', serif" font-size="16.5" fill="#111" text-anchor="middle">
<text x="39.2" y="11.6">Γ</text>
<text x="90.3" y="11.6">A</text>
<text x="155.5" y="11.6">K</text>
<text x="194.0" y="11.6">Γ</text>
<text x="260.2" y="11.6">H</text>
<text x="311.0" y="11.6">Z</text>
<text x="354.9" y="11.6">Γ</text>
<text x="405.2" y="11.6">Y</text>
<text x="455.6" y="11.6">Γ</text>
<text x="530.8" y="11.6">X</text>
</g>
<g font-family="'Liberation Serif', serif" font-size="17" fill="#111">
<text x="110" y="234">(a) C32-b</text>
<text x="398.5" y="234">(b) SQS-24</text>
<text x="248" y="243.3">Wave vector</text>
<text transform="translate(11.7,106.7) rotate(-90)" text-anchor="middle">Frequency (THz)</text>
</g>
</svg></body></html>
